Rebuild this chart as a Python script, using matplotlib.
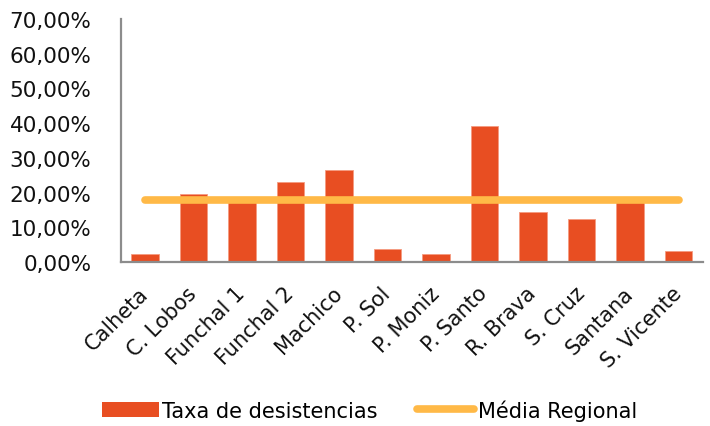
import matplotlib.pyplot as plt
from matplotlib.ticker import FuncFormatter
from matplotlib.lines import Line2D
from matplotlib.patches import Patch

# ======= DATA ========
concelhos = ['Calheta', 'C. Lobos', 'Funchal 1', 'Funchal 2', 'Machico', 'P. Sol',
             'P. Moniz', 'P. Santo', 'R. Brava', 'S. Cruz', 'Santana', 'S. Vicente']
taxa_desistencias = [2.2, 19.6, 17.5, 23.0, 26.4, 3.8, 2.2, 39.1, 14.5, 12.3, 17.5, 3.1]
media_regional = [18.0] * len(concelhos)
# ======================

BAR_COLOR = '#E84E22'
LINE_COLOR = '#FFB947'
AXIS_COLOR = '#8C8C8C'

plt.rcParams['font.family'] = ['DejaVu Sans']

fig = plt.figure(figsize=(7.1, 4.27), dpi=100)
ax = fig.add_axes([0.170, 0.384, 0.820, 0.569])

x = range(len(concelhos))
ax.bar(x, taxa_desistencias, width=0.57, color=BAR_COLOR, edgecolor='#F59B80', linewidth=0.6, zorder=2)
ax.plot(x, media_regional, color=LINE_COLOR, linewidth=5.5, solid_capstyle='round', zorder=3)

ax.set_xlim(-0.5, len(concelhos) - 0.5)
ax.set_ylim(0, 70)
ax.set_yticks(range(0, 71, 10))
ax.yaxis.set_major_formatter(FuncFormatter(lambda v, p: f'{v:.2f}%'.replace('.', ',')))

ax.set_xticks(list(x))
ax.set_xticklabels(concelhos, rotation=45, ha='right', va='center', rotation_mode='anchor')

for side in ['top', 'right']:
    ax.spines[side].set_visible(False)
for side in ['left', 'bottom']:
    ax.spines[side].set_color(AXIS_COLOR)
    ax.spines[side].set_linewidth(1.6)
ax.tick_params(axis='both', length=0, colors='#111111')
ax.tick_params(axis='y', pad=21, labelsize=15.5)
ax.tick_params(axis='x', pad=20, labelsize=15)

handles = [Patch(facecolor=BAR_COLOR, label='Taxa de desistencias'),
           Line2D([0], [0], color=LINE_COLOR, linewidth=5.5, solid_capstyle='round', label='Média Regional')]
fig.legend(handles=handles, loc='center', bbox_to_anchor=(0.52, 0.038), ncol=2, frameon=False,
           fontsize=15, handlelength=2.75, handletextpad=0.15, columnspacing=1.9)

fig.savefig('out.png', dpi=100)
